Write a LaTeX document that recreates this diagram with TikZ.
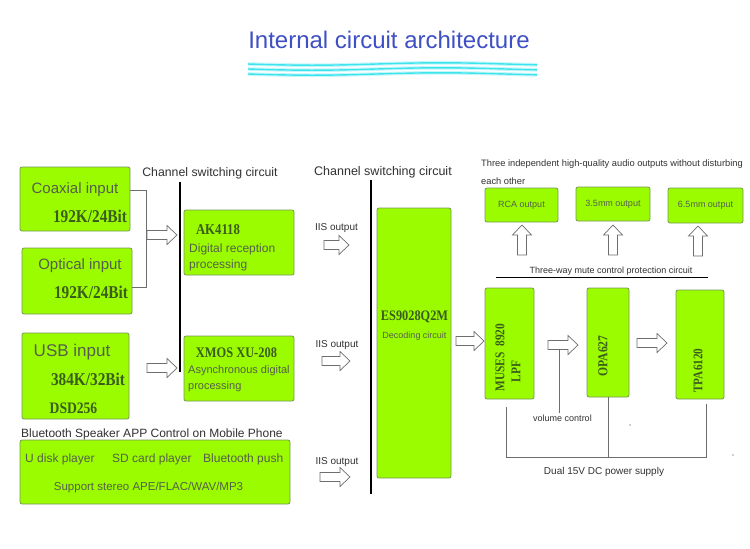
\documentclass[tikz,border=0pt]{standalone}
\usepackage{fontspec}
\setmainfont{Liberation Sans}
\newfontfamily\chipfont{Liberation Serif Bold}[FakeStretch=0.85]
\usetikzlibrary{calc}
\definecolor{boxfill}{RGB}{155,252,0}
\definecolor{boxline}{RGB}{120,150,90}
\definecolor{boxtext}{RGB}{85,95,75}
\definecolor{labtext}{RGB}{50,50,50}
\definecolor{chipgreen}{RGB}{58,92,28}
\definecolor{titleblue}{RGB}{62,80,196}
\definecolor{conngray}{RGB}{110,110,110}
\definecolor{arrowgray}{RGB}{110,110,110}
\definecolor{wavecol}{RGB}{60,228,238}
\newcommand\fsz[1]{\fontsize{#1}{#1}\selectfont}
\tikzset{
  gbox/.style={draw=boxline, fill=boxfill, rounded corners=2pt, line width=0.8pt, inner sep=0pt},
  hollow/.style={draw=arrowgray, fill=white, line width=0.7pt, line join=miter},
  conn/.style={draw=conngray, line width=0.9pt},
  bar/.style={draw=black, line width=1.1pt},
  boxtxt/.style={inner sep=0pt, text=boxtext},
  lab/.style={inner sep=0pt, text=labtext},
  chip/.style={inner sep=0pt, text=chipgreen},
  pics/harrow/.style={code={\path[hollow] (0,-4.5) -- ({#1-10},-4.5) -- ({#1-10},-9.5) -- (#1,0) -- ({#1-10},9.5) -- ({#1-10},4.5) -- (0,4.5) -- cycle;}}
}
\begin{document}
\begin{tikzpicture}[x=1pt,y=-1pt]
\useasboundingbox (0,0) rectangle (750,549);
\fill[white] (0,0) rectangle (750,549);

% title
\node[inner sep=0pt, text=titleblue, font=\fsz{24}] (title) at (389,40) {Internal circuit architecture};
\foreach \yy in {64,69,74} {
  \draw[wavecol!30, line width=3.6pt] plot[domain=248:537, samples=80] (\x,{\yy+1.2*sin((\x-248)*1.4)});
}
\foreach \yy in {64,69,74} {
  \draw[wavecol, line width=1.4pt] plot[domain=248:537, samples=80] (\x,{\yy+1.2*sin((\x-248)*1.4)});
}

% left inputs
\node[gbox, minimum width=110pt, minimum height=64pt] (coax) at (75,199) {};
\node[boxtxt, font=\fsz{15}] (coaxT) at (75,190) {Coaxial input};
\node[chip, font=\chipfont\fsz{18}] (coaxR) at (90,216) {192K/24Bit};

\node[gbox, minimum width=110pt, minimum height=66pt] (optical) at (77,281) {};
\node[boxtxt, font=\fsz{15}] (optT) at (80,266) {Optical input};
\node[chip, font=\chipfont\fsz{18}] (optR) at (91,292) {192K/24Bit};

\node[gbox, minimum width=107pt, minimum height=86pt] (usb) at (75.5,376) {};
\node[boxtxt, font=\fsz{17}] (usbT) at (72,352) {USB input};
\node[chip, font=\chipfont\fsz{18}] (usbR) at (88,379) {384K/32Bit};
\node[chip, font=\chipfont\fsz{16}] (usbD) at (73.5,408) {DSD256};

\node[lab, font=\fsz{12.3}] (ch1) at (210,173) {Channel switching circuit};
\draw[conn] ([yshift=9pt]coax.east) -| (146,287) -- ([yshift=-6pt]optical.east);
\pic at (147,235) {harrow=30};
\pic at (147,368) {harrow=30};
\draw[bar] (180,182) -- (180,372);

% receivers
\node[gbox, minimum width=110pt, minimum height=65pt] (ak) at (239,242.5) {};
\node[chip, font=\chipfont\fsz{15}] (akT) at (218,230) {AK4118};
\node[boxtxt, font=\fsz{12}, anchor=west] (akA) at (189,249) {Digital reception};
\node[boxtxt, font=\fsz{12}, anchor=west] (akB) at (189,265) {processing};

\node[gbox, minimum width=110pt, minimum height=65pt] (xmos) at (239,368.5) {};
\node[chip, font=\chipfont\fsz{14.6}] (xmT) at (236.5,353) {XMOS XU-208};
\node[boxtxt, font=\fsz{11}, anchor=west] (xmA) at (188,371) {Asynchronous digital};
\node[boxtxt, font=\fsz{11}, anchor=west] (xmB) at (188,387) {processing};

% bluetooth
\node[lab, font=\fsz{12}, anchor=west] (btL) at (21,434) {Bluetooth Speaker APP Control on Mobile Phone};
\node[gbox, minimum width=270pt, minimum height=64pt] (bt) at (155,472) {};
\node[boxtxt, font=\fsz{12}, anchor=west] (bt1) at (25,459) {U disk player};
\node[boxtxt, font=\fsz{12}, anchor=west] (bt2) at (112,459) {SD card player};
\node[boxtxt, font=\fsz{12}, anchor=west] (bt3) at (203,459) {Bluetooth push};
\node[boxtxt, font=\fsz{11.5}] (bt4) at (148.5,488) {Support stereo APE/FLAC/WAV/MP3};

% decoder column
\node[lab, font=\fsz{12.5}] (ch2) at (383,172) {Channel switching circuit};
\draw[bar] (371,180) -- (371,494);
\node[lab, font=\fsz{10}] (iis1) at (336.5,228) {IIS output};
\node[lab, font=\fsz{10}] (iis2) at (337,345) {IIS output};
\node[lab, font=\fsz{10}] (iis3) at (337,462) {IIS output};
\pic at (324,245) {harrow=25};
\pic at (322,361) {harrow=28};
\pic at (320,477) {harrow=30};

\node[gbox, minimum width=74pt, minimum height=270pt] (es) at (414,343) {};
\node[chip, font=\chipfont\fsz{14.5}] (esT) at (414.5,317) {ES9028Q2M};
\node[boxtxt, font=\fsz{9}] (esB) at (414.5,336) {Decoding circuit};
\pic at (456,341) {harrow=28};

% outputs
\node[lab, font=\fsz{9.3}, anchor=west] (outL1) at (481,164) {Three independent high-quality audio outputs without disturbing};
\node[lab, font=\fsz{9.3}, anchor=west] (outL2) at (481,181) {each other};
\node[gbox, minimum width=73pt, minimum height=34pt, text=boxtext, font=\fsz{9}] (rca) at (521.5,205) {RCA output};
\node[gbox, minimum width=74pt, minimum height=34pt, text=boxtext, font=\fsz{9}] (mm35) at (613,204) {3.5mm output};
\node[gbox, minimum width=75pt, minimum height=35pt, text=boxtext, font=\fsz{9}] (mm65) at (705.5,205.5) {6.5mm output};
\pic[rotate=90] at (522,255) {harrow=30};
\pic[rotate=90] at (613,255) {harrow=30};
\pic[rotate=90] at (698,256) {harrow=30};
\node[lab, font=\fsz{9}] (mute) at (611,271.5) {Three-way mute control protection circuit};
\draw[black, line width=1pt] (496,277.5) -- (708,277.5);

% amplifier chain
\node[gbox, minimum width=49pt, minimum height=111pt] (muses) at (509.5,343.5) {};
\node[chip, rotate=90, font=\chipfont\fsz{13.4}] (musT) at (500,357.5) {MUSES\ \ 8920};
\node[chip, rotate=90, font=\chipfont\fsz{13.4}] (musL) at (516,371.5) {LPF};
\node[gbox, minimum width=42pt, minimum height=109pt] (opa) at (608,342.5) {};
\node[chip, rotate=90, font=\chipfont\fsz{13.7}] (opaT) at (603,356) {OPA627};
\node[gbox, minimum width=48pt, minimum height=109pt] (tpa) at (700,344.5) {};
\node[chip, rotate=90, font=\chipfont\fsz{13.2}] (tpaT) at (698,370.5) {TPA6120};
\pic at (548,345) {harrow=30};
\pic at (637,343) {harrow=30};

\coordinate (vtop) at (559,349.5);
\coordinate (vbot) at (559,413);
\draw[conn] (vtop) -- (vbot);
\node[lab, font=\fsz{9}] (vol) at (562.5,418) {volume control};

\coordinate (pm) at (506,407);
\coordinate (pt) at (706,404);
\coordinate (pl) at (506,457);
\coordinate (pr) at (706,457);
\draw[conn] (pm) -- (pl) -- (pr) -- (pt);
\draw[conn] (opa.south) -- (opa.south |- pl);
\node[lab, font=\fsz{10}] (pwr) at (604,472) {Dual 15V DC power supply};
\fill[labtext] (630,425) circle (0.6pt);
\fill[labtext] (733,455) circle (0.6pt);
\end{tikzpicture}
\end{document}
